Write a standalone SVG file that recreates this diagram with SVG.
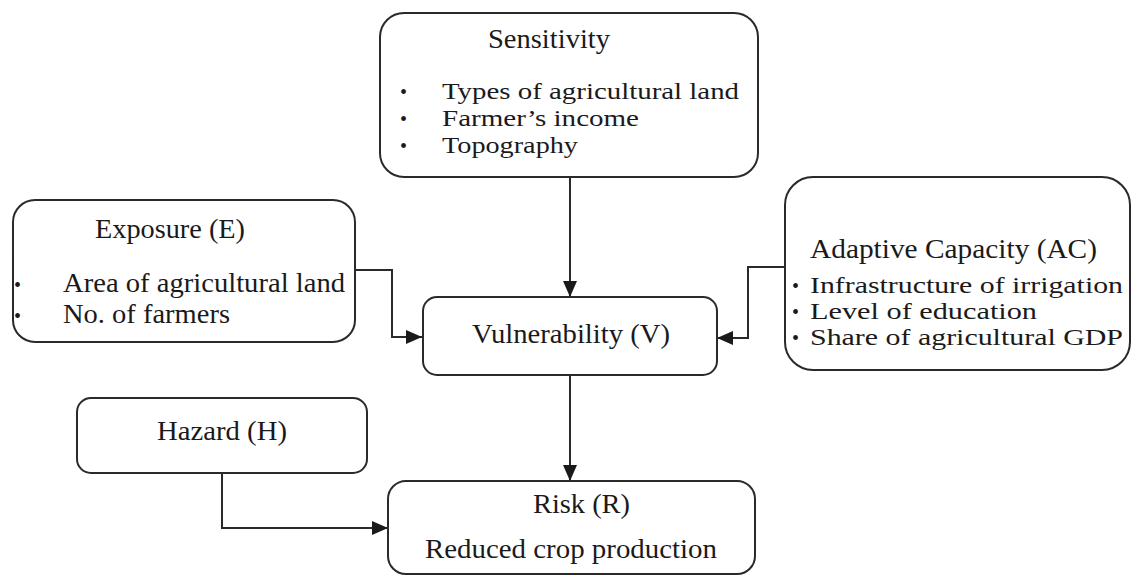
<svg xmlns="http://www.w3.org/2000/svg" width="1132" height="575" viewBox="0 0 1132 575">
<style>
.box{fill:#fff;stroke:#2a2a2a;stroke-width:2}
.t{font-family:"Liberation Serif","Times New Roman",serif;font-size:27px;fill:#1a1a1a}
.s{font-family:"Liberation Serif","Times New Roman",serif;font-size:24px;fill:#1a1a1a}
.b{font-family:"Liberation Serif","Times New Roman",serif;font-size:20px;fill:#1a1a1a}
.c{fill:none;stroke:#2a2a2a;stroke-width:2}
</style>
<defs>
<marker id="arr" viewBox="0 0 16 14" refX="16" refY="7" markerWidth="16" markerHeight="14" markerUnits="userSpaceOnUse" orient="auto">
<path d="M0,0 L16,7 L0,14 Z" fill="#1a1a1a"/>
</marker>
</defs>
<rect width="1132" height="575" fill="#fff"/>
<g id="connectors">
<path class="c" d="M570,177 V297" marker-end="url(#arr)"/>
<path class="c" d="M355,270 H392 V337 H422" marker-end="url(#arr)"/>
<path class="c" d="M785,267 H748 V338 H717" marker-end="url(#arr)"/>
<path class="c" d="M570,375 V481" marker-end="url(#arr)"/>
<path class="c" d="M222,473 V528 H388" marker-end="url(#arr)"/>
</g>
<g id="sensitivity">
<rect class="box" x="380" y="13" width="378" height="164" rx="24"/>
<text class="t" x="488" y="48" textLength="122" lengthAdjust="spacingAndGlyphs">Sensitivity</text>
<text class="b" x="400" y="99">•</text>
<text class="b" x="400" y="126">•</text>
<text class="b" x="400" y="153">•</text>
<text class="s" x="442" y="99" textLength="297" lengthAdjust="spacingAndGlyphs">Types of agricultural land</text>
<text class="s" x="442" y="126" textLength="197" lengthAdjust="spacingAndGlyphs">Farmer’s income</text>
<text class="s" x="442" y="153" textLength="136" lengthAdjust="spacingAndGlyphs">Topography</text>
</g>
<g id="exposure">
<rect class="box" x="13" y="200" width="342" height="142" rx="22"/>
<text class="t" x="95" y="238" textLength="150" lengthAdjust="spacingAndGlyphs">Exposure (E)</text>
<text class="b" x="14" y="292">•</text>
<text class="b" x="14" y="323">•</text>
<text class="t" x="63" y="292" textLength="282" lengthAdjust="spacingAndGlyphs">Area of agricultural land</text>
<text class="t" x="63" y="323" textLength="167" lengthAdjust="spacingAndGlyphs">No. of farmers</text>
</g>
<g id="adaptive">
<rect class="box" x="785" y="177" width="345" height="193" rx="28"/>
<text class="t" x="810" y="258" textLength="287" lengthAdjust="spacingAndGlyphs">Adaptive Capacity (AC)</text>
<text class="b" x="792" y="293">•</text>
<text class="b" x="792" y="319">•</text>
<text class="b" x="792" y="345">•</text>
<text class="s" x="810" y="293" textLength="313" lengthAdjust="spacingAndGlyphs">Infrastructure of irrigation</text>
<text class="s" x="810" y="319" textLength="227" lengthAdjust="spacingAndGlyphs">Level of education</text>
<text class="s" x="810" y="345" textLength="313" lengthAdjust="spacingAndGlyphs">Share of agricultural GDP</text>
</g>
<g id="vulnerability">
<rect class="box" x="423" y="297" width="294" height="78" rx="14"/>
<text class="t" x="472" y="343" textLength="198" lengthAdjust="spacingAndGlyphs">Vulnerability (V)</text>
</g>
<g id="hazard">
<rect class="box" x="77" y="398" width="290" height="75" rx="14"/>
<text class="t" x="157" y="440" textLength="130" lengthAdjust="spacingAndGlyphs">Hazard (H)</text>
</g>
<g id="risk">
<rect class="box" x="388" y="481" width="367" height="93" rx="18"/>
<text class="t" x="533" y="513" textLength="97" lengthAdjust="spacingAndGlyphs">Risk (R)</text>
<text class="t" x="425" y="558" textLength="292" lengthAdjust="spacingAndGlyphs">Reduced crop production</text>
</g>
</svg>
